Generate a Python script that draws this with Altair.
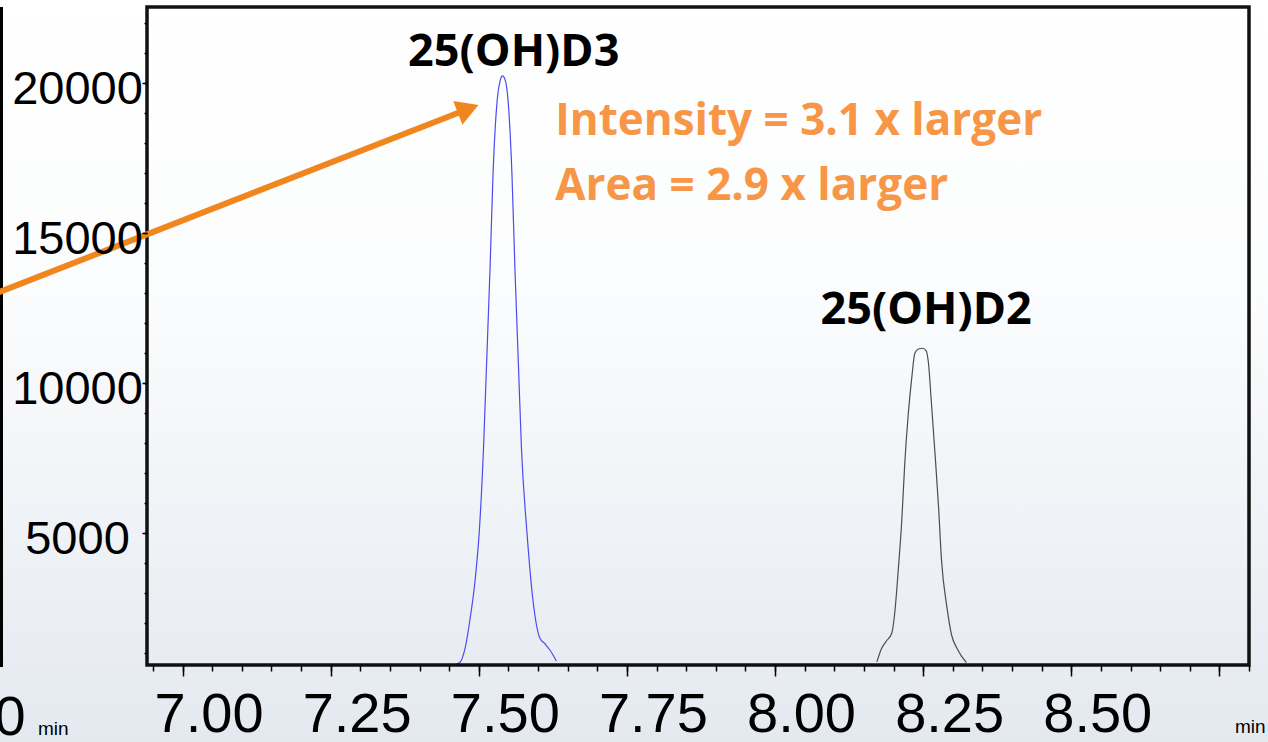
import altair as alt
import pandas as pd

# ---- chromatogram traces (retention time in min, intensity) ----
d3_time = [7.454, 7.468, 7.477, 7.485, 7.494, 7.501, 7.508, 7.513, 7.519, 7.524, 7.531, 7.536,
           7.540, 7.545, 7.550, 7.556, 7.561, 7.567, 7.572, 7.581, 7.592, 7.603, 7.612, 7.620, 7.631]
d3_int = [600, 687, 1167, 2100, 3467, 5100, 7833, 10550, 13813, 16943, 19400, 20067,
          20233, 20067, 19267, 16943, 13813, 10550, 7833, 5100, 2667, 1500, 1300, 1100, 733]

d2_time = [8.172, 8.180, 8.188, 8.197, 8.202, 8.208, 8.214, 8.219, 8.225, 8.231, 8.236, 8.242,
           8.249, 8.255, 8.259, 8.264, 8.270, 8.276, 8.281, 8.290, 8.298, 8.307, 8.323]
d2_int = [710, 1157, 1400, 1657, 2323, 3767, 5433, 7323, 8990, 10210, 10990, 11133,
          11157, 11077, 10657, 9323, 7657, 5877, 4100, 2543, 1600, 1157, 677]

# ---- axes ----
x_domain = [6.94, 8.80]
y_domain = [600, 22530]
x_minor = [round(6.95 + 0.05 * i, 2) for i in range(38)]
x_major = [7.00, 7.25, 7.50, 7.75, 8.00, 8.25, 8.50, 8.75]
x_last_label = 8.50
y_minor = [1000 * i for i in range(1, 23)]
y_major = [5000, 10000, 15000, 20000]

# ---- annotations (data units) ----
peak_names = ["25(OH)D3", "25(OH)D2"]
peak_name_x = [7.559, 8.255]
peak_name_y = [20580, 11950]
note_lines = ["Intensity = 3.1 x larger", "Area = 2.9 x larger"]
note_x = [7.629, 7.629]
note_y = [18267, 16100]
arrow_x = [6.658, 7.482]
arrow_y = [12777, 19133]
left_panel_x = 6.694
left_zero = "0"
left_zero_xy = (6.709, -1733)
left_min_xy = (6.756, -1733)

W, H = 1102, 658
PAD = {"left": 147, "top": 7, "right": 19, "bottom": 77}
SANS = "Liberation Sans"

traces = pd.concat([
    pd.DataFrame({"t": d3_time, "i": d3_int, "s": "D3"}),
    pd.DataFrame({"t": d2_time, "i": d2_int, "s": "D2"}),
])

xs = alt.Scale(domain=x_domain, nice=False, zero=False)
ys = alt.Scale(domain=y_domain, nice=False, zero=False)

common = dict(domain=False, grid=False, tickColor="black", tickWidth=1.5, zindex=2)

x_axis_major = alt.Axis(
    values=x_major, orient="bottom", tickSize=11,
    labelExpr=f"datum.value > {x_last_label} + 0.01 ? '' : format(datum.value, '.2f')",
    labelOffset=26, labelPadding=11, labelOverlap=False, labelFlush=False, labelBound=False,
    labelFont=SANS, labelFontSize=56, labelColor="black",
    title="min", titleFont=SANS, titleFontSize=19,
    titleFontWeight="normal", titleColor="black", titleX=1118, titleY=67,
    titleAlign="right", titleBaseline="alphabetic", titleAnchor="end", **common,
)
x_axis_minor = alt.Axis(values=x_minor, orient="bottom", tickSize=6, labels=False, title=None, **common)
y_axis_major = alt.Axis(
    values=y_major, orient="left", tickSize=5, format="d",
    labelAlign="center", labelPadding=65, labelOffset=7, labelOverlap=False, labelBound=False,
    labelFont=SANS, labelFontSize=47, labelColor="black", title=None, **common,
)
y_axis_minor = alt.Axis(values=y_minor, orient="left", tickSize=3, labels=False, title=None, **common)

bg = alt.Chart(alt.Data(values=[{}])).mark_rect(
    fill=alt.LinearGradient(
        gradient="linear", x1=0, x2=0, y1=0, y2=1,
        stops=[alt.GradientStop(color="#ffffff", offset=0),
               alt.GradientStop(color="#fbfcfd", offset=0.4),
               alt.GradientStop(color="#e4e9f0", offset=1)]),
).encode(x=alt.value(-PAD["left"]), x2=alt.value(W + PAD["right"]),
         y=alt.value(-PAD["top"]), y2=alt.value(H + PAD["bottom"]))

frame = alt.Chart(alt.Data(values=[{}])).mark_rect(
    fillOpacity=0, stroke="#111111", strokeWidth=3.5
).encode(x=alt.value(0), x2=alt.value(W), y=alt.value(0), y2=alt.value(H))

lines = alt.Chart(traces).mark_line(strokeWidth=1.2, interpolate="monotone", clip=True).encode(
    x=alt.X("t:Q", scale=xs, axis=x_axis_major),
    y=alt.Y("i:Q", scale=ys, axis=y_axis_major),
    color=alt.Color("s:N", scale=alt.Scale(domain=["D3", "D2"], range=["#4b4bf0", "#4d4d4d"]), legend=None),
    detail="s:N",
)

left_line = alt.Chart(pd.DataFrame({"x": [left_panel_x], "y": [y_domain[0] - 70], "y2": [y_domain[1]]})).mark_rule(
    color="black", strokeWidth=3.5).encode(
    x=alt.X("x:Q", scale=xs, axis=None), y=alt.Y("y:Q", scale=ys, axis=None), y2="y2:Q")

names = alt.Chart(pd.DataFrame({"n": peak_names, "x": peak_name_x, "y": peak_name_y})).mark_text(
    font="Open Sans", fontWeight="bold", fontSize=45, color="black", align="center", baseline="alphabetic"
).encode(x=alt.X("x:Q", scale=xs, axis=x_axis_minor), y=alt.Y("y:Q", scale=ys, axis=y_axis_minor), text="n:N")

notes = alt.Chart(pd.DataFrame({"n": note_lines, "x": note_x, "y": note_y})).mark_text(
    font="Open Sans", fontWeight="bold", fontSize=44, color="#F79646", align="left", baseline="alphabetic"
).encode(x=alt.X("x:Q", scale=xs, axis=None), y=alt.Y("y:Q", scale=ys, axis=None), text="n:N")

arrow_df = pd.DataFrame({"x": [arrow_x[0]], "y": [arrow_y[0]], "x2": [arrow_x[1]], "y2": [arrow_y[1]]})
shaft = alt.Chart(arrow_df).mark_rule(color="#F0871E", strokeWidth=6).encode(
    x=alt.X("x:Q", scale=xs, axis=None), y=alt.Y("y:Q", scale=ys, axis=None), x2="x2:Q", y2="y2:Q")
head = alt.Chart(pd.DataFrame({"x": [arrow_x[1]], "y": [arrow_y[1]]})).mark_point(
    shape="triangle-up", filled=True, size=650, angle=68.8, color="#F0871E", opacity=1
).encode(x=alt.X("x:Q", scale=xs, axis=None), y=alt.Y("y:Q", scale=ys, axis=None))

zero_txt = alt.Chart(pd.DataFrame({"x": [left_zero_xy[0]], "y": [left_zero_xy[1]], "n": [left_zero]})).mark_text(
    font=SANS, fontSize=56, color="black", align="center", baseline="alphabetic"
).encode(x=alt.X("x:Q", scale=xs, axis=None), y=alt.Y("y:Q", scale=ys, axis=None), text="n:N")
min_txt = alt.Chart(pd.DataFrame({"x": [left_min_xy[0]], "y": [left_min_xy[1]], "n": ["min"]})).mark_text(
    font=SANS, fontSize=19, color="black", align="left", baseline="alphabetic"
).encode(x=alt.X("x:Q", scale=xs, axis=None), y=alt.Y("y:Q", scale=ys, axis=None), text="n:N")

chart = alt.layer(bg, lines, left_line, frame, shaft, head, names, notes, zero_txt, min_txt).resolve_axis(
    x="independent", y="independent"
).properties(
    width=W, height=H, padding=PAD, autosize=alt.AutoSizeParams(type="none"),
).configure_view(strokeWidth=0).configure(background="white")

chart.save("out.html", embed_options={"renderer": "svg", "actions": False})
